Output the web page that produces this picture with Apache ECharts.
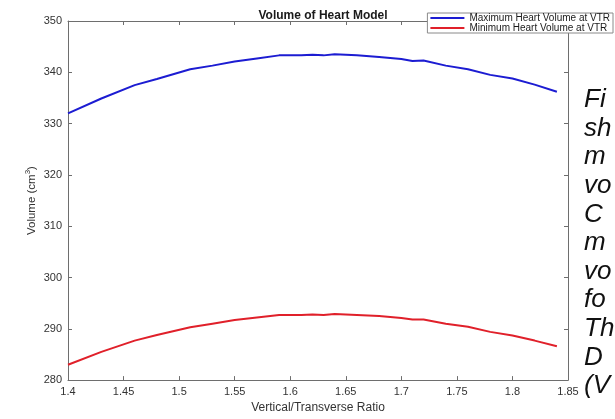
<!DOCTYPE html>
<html>
<head>
<meta charset="utf-8">
<script src="https://cdn.jsdelivr.net/npm/echarts@6/dist/echarts.min.js"></script>
<style>
  html, body { margin: 0; padding: 0; background: #fff; }
  #chart { width: 615px; height: 419px; }
</style>
</head>
<body>
<div id="chart"></div>
<script>
// Vertical/Transverse ratio samples
const ratio = [1.40, 1.43, 1.46, 1.48, 1.51, 1.53, 1.55, 1.57, 1.59, 1.61, 1.62, 1.63,
               1.64, 1.66, 1.68, 1.70, 1.71, 1.72, 1.74, 1.76, 1.78, 1.80, 1.82, 1.84];
// Heart volume (cm^3) at each ratio
const maxVolume = [332.0, 334.9, 337.5, 338.7, 340.6, 341.3, 342.1, 342.7, 343.3, 343.3, 343.4, 343.3,
                   343.5, 343.3, 343.0, 342.6, 342.2, 342.3, 341.3, 340.6, 339.5, 338.8, 337.6, 336.2];
const minVolume = [283.0, 285.5, 287.7, 288.8, 290.3, 291.0, 291.7, 292.2, 292.7, 292.7, 292.8, 292.7,
                   292.9, 292.7, 292.5, 292.1, 291.8, 291.8, 291.0, 290.4, 289.4, 288.7, 287.7, 286.6];
const seriesNames = ['Maximum Heart Volume at VTR', 'Minimum Heart Volume at VTR'];
// Caption fragments to the right of the axes
const captionLines = ['Fi', 'sh', 'm', 'vo', 'C', 'm', 'vo', 'fo', 'Th', 'D', '(V'];

const chart = echarts.init(document.getElementById('chart'), null, { renderer: 'canvas' });

const FONT = 'Liberation Sans, Arial, sans-serif';
const axisGray = '#6e6e6e';
const labelColor = '#333333';
const pair = (xs, ys) => xs.map((x, i) => [x, ys[i]]);

const option = {
  backgroundColor: '#ffffff',
  animation: false,
  title: {
    text: 'Volume of Heart Model',
    left: 318, top: 5, textAlign: 'center',
    textStyle: { fontFamily: FONT, fontSize: 12, fontWeight: 'bold', color: '#1a1a1a' }
  },
  legend: {
    orient: 'vertical',
    right: 2, top: 13,
    backgroundColor: '#ffffff',
    borderColor: '#8a8a8a', borderWidth: 1, borderRadius: 0,
    padding: [0, 3, 0, 3],
    itemGap: 0, itemWidth: 34, itemHeight: 2,
    icon: 'rect',
    textStyle: { fontFamily: FONT, fontSize: 10, color: '#1a1a1a' },
    data: seriesNames
  },
  grid: { left: 68, right: 47, top: 21, bottom: 35 },
  xAxis: [
    {
      type: 'value', min: 1.4, max: 1.85, interval: 0.05,
      name: 'Vertical/Transverse Ratio', nameLocation: 'middle', nameGap: 21,
      nameTextStyle: { fontFamily: FONT, fontSize: 12, color: labelColor },
      axisLine: { lineStyle: { color: axisGray, width: 1 } },
      axisTick: { inside: true, length: 4, lineStyle: { color: axisGray } },
      axisLabel: { fontFamily: FONT, fontSize: 11, color: labelColor, margin: 6,
                   formatter: v => String(+v.toFixed(2)) },
      splitLine: { show: false }
    },
    {
      type: 'value', min: 1.4, max: 1.85, interval: 0.05, position: 'top',
      axisLine: { lineStyle: { color: axisGray, width: 1 } },
      axisTick: { inside: true, length: 4, lineStyle: { color: axisGray } },
      axisLabel: { show: false }, splitLine: { show: false }
    }
  ],
  yAxis: [
    {
      type: 'value', min: 280, max: 350, interval: 10,
      name: 'Volume (cm{sup|3})', nameLocation: 'middle', nameGap: 29, nameRotate: 90,
      nameMoveOverlap: false,
      nameTextStyle: {
        fontFamily: FONT, fontSize: 11.5, color: labelColor,
        rich: { sup: { fontFamily: FONT, fontSize: 8, color: labelColor, verticalAlign: 'top', padding: [0, 0, 7, 0] } }
      },
      axisLine: { lineStyle: { color: axisGray, width: 1 } },
      axisTick: { inside: true, length: 4, lineStyle: { color: axisGray } },
      axisLabel: { fontFamily: FONT, fontSize: 11, color: labelColor, margin: 6 },
      splitLine: { show: false }
    },
    {
      type: 'value', min: 280, max: 350, interval: 10, position: 'right',
      axisLine: { lineStyle: { color: axisGray, width: 1 } },
      axisTick: { inside: true, length: 4, lineStyle: { color: axisGray } },
      axisLabel: { show: false }, splitLine: { show: false }
    }
  ],
  series: [
    {
      name: seriesNames[0], type: 'line', data: pair(ratio, maxVolume),
      showSymbol: false, symbol: 'none', smooth: false,
      lineStyle: { color: '#1c1cd2', width: 2 }, itemStyle: { color: '#1c1cd2' }
    },
    {
      name: seriesNames[1], type: 'line', data: pair(ratio, minVolume),
      showSymbol: false, symbol: 'none', smooth: false,
      lineStyle: { color: '#e0202a', width: 2 }, itemStyle: { color: '#e0202a' }
    }
  ],
  graphic: captionLines.map((t, i) => ({
    type: 'text',
    left: 584, top: 87 + i * 28.6,
    style: { text: t, font: 'italic 26px "Liberation Sans", Arial, sans-serif', fill: '#111111' }
  }))
};

chart.setOption(option);
</script>
</body>
</html>
